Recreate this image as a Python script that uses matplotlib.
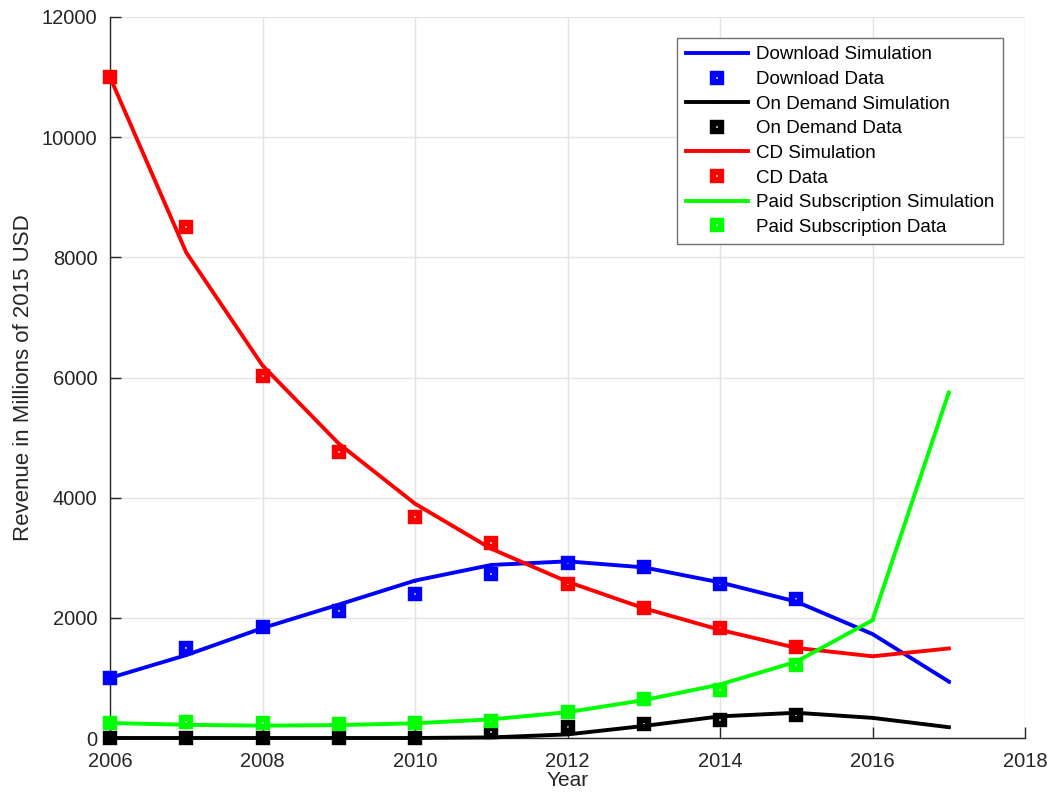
import matplotlib
matplotlib.use("Agg")
import matplotlib.pyplot as plt

plt.rcParams['font.family'] = ['Liberation Sans', 'DejaVu Sans']

sim_years = [2006, 2007, 2008, 2009, 2010, 2011, 2012, 2013, 2014, 2015, 2016, 2017]
data_years = [2006, 2007, 2008, 2009, 2010, 2011, 2012, 2013, 2014, 2015]

download_sim = [1000, 1380, 1830, 2220, 2620, 2880, 2940, 2840, 2590, 2270, 1730, 940]
download_data = [1000, 1500, 1840, 2120, 2400, 2730, 2920, 2850, 2560, 2310]
ondemand_sim = [0, 0, 0, 0, 0, 10, 60, 200, 360, 420, 335, 180]
ondemand_data = [0, 0, 0, 0, 0, 100, 180, 235, 300, 390]
cd_sim = [11000, 8080, 6200, 4900, 3900, 3150, 2600, 2160, 1800, 1500, 1360, 1490]
cd_data = [11000, 8500, 6020, 4760, 3680, 3250, 2560, 2170, 1830, 1510]
paid_sim = [250, 220, 205, 215, 245, 310, 430, 630, 890, 1270, 1960, 5750]
paid_data = [250, 265, 250, 240, 250, 290, 430, 650, 805, 1210]

series = [
    ("Download", download_sim, download_data, "#0000ff"),
    ("On Demand", ondemand_sim, ondemand_data, "#000000"),
    ("CD", cd_sim, cd_data, "#ff0000"),
    ("Paid Subscription", paid_sim, paid_data, "#00ff00"),
]

x_ticks = [2006, 2008, 2010, 2012, 2014, 2016, 2018]
y_ticks = [0, 2000, 4000, 6000, 8000, 10000, 12000]

fig = plt.figure(figsize=(10.49, 7.94), dpi=100)
ax = fig.add_axes([110 / 1049, 1 - 738 / 794, 915 / 1049, 721 / 794])

for name, sim, data, color in series:
    ax.plot(sim_years, sim, '-', color=color, lw=2.8, marker='.', ms=2,
            label=f"{name} Simulation", clip_on=False, zorder=3)
    ax.plot(data_years, data, 's', color=color, ms=6.0, mew=4.6,
            fillstyle='none', linestyle='none', label=f"{name} Data",
            clip_on=False, zorder=3)

ax.set_xlim(2006, 2018)
ax.set_ylim(0, 12000)
ax.set_xticks(x_ticks)
ax.set_yticks(y_ticks)
ax.set_xticklabels([str(t) for t in x_ticks])
ax.set_yticklabels([str(t) for t in y_ticks])

ax.grid(True, color='#e3e3e3', lw=1.0, zorder=0)
ax.set_axisbelow(True)
for s in ['top', 'right']:
    ax.spines[s].set_visible(False)
for s in ['left', 'bottom']:
    ax.spines[s].set_color('#262626')
    ax.spines[s].set_linewidth(1.0)
ax.tick_params(direction='in', length=8, width=1.0, colors='#262626',
               labelsize=14.5, labelcolor='#262626')
ax.tick_params(axis='x', pad=10)
ax.tick_params(axis='y', pad=9)

ax.set_xlabel("Year", fontsize=15, color='#262626', labelpad=0)
ax.set_ylabel("Revenue in Millions of 2015 USD", fontsize=16, color='#262626',
              labelpad=6)

leg = ax.legend(loc='upper right', bbox_to_anchor=(0.976, 0.971),
                borderaxespad=0, fontsize=13.5, frameon=True, fancybox=False,
                edgecolor='#707070', framealpha=1, handlelength=3.3,
                labelspacing=0.4, numpoints=1, borderpad=0.45, handletextpad=0.45)
leg.get_frame().set_linewidth(1.0)

fig.savefig("out.png", dpi=100)
